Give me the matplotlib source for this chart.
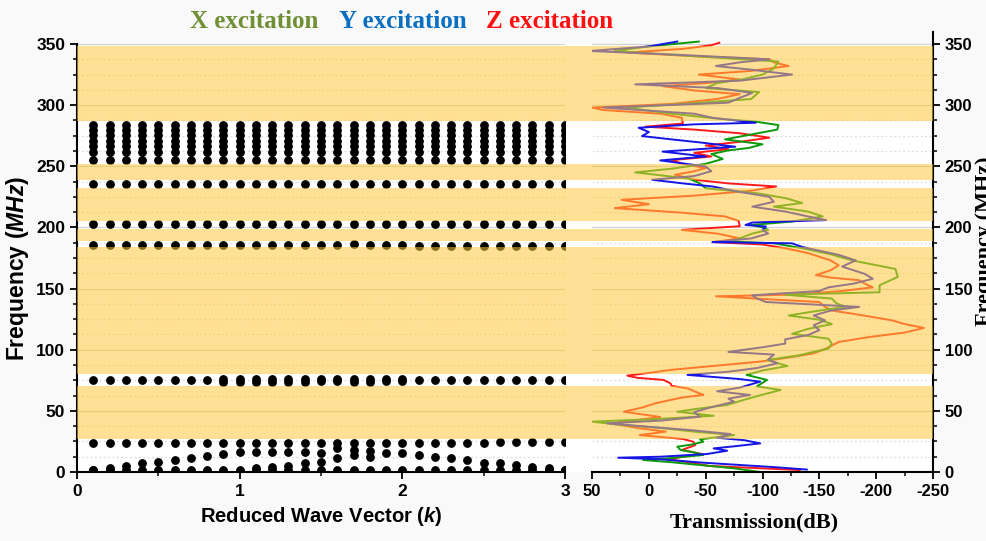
import matplotlib
matplotlib.use("Agg")
import matplotlib.pyplot as plt
from matplotlib.ticker import MultipleLocator
import numpy as np

plt.rcParams['font.family'] = ['Liberation Sans', 'DejaVu Sans']
plt.rcParams['font.weight'] = 'bold'
plt.rcParams['axes.unicode_minus'] = False
plt.rcParams['mathtext.fontset'] = 'custom'
plt.rcParams['mathtext.rm'] = 'Liberation Sans:bold'
plt.rcParams['mathtext.bfit'] = 'Liberation Sans:bold:italic'

# ---- band structure (reduced wave vector vs frequency, MHz) ----
k_vals = [0.1, 0.2, 0.3, 0.4, 0.5, 0.6, 0.7, 0.8, 0.9, 1.0,
          1.1, 1.2, 1.3, 1.4, 1.5, 1.6, 1.7, 1.8, 1.9, 2.0,
          2.1, 2.2, 2.3, 2.4, 2.5, 2.6, 2.7, 2.8, 2.9, 3.0]

f_low = [1.6, 1.6, 1.6, 1.8, 1.6, 1.6, 1.8, 1.6, 1.6, 1.6, 1.6, 1.6, 1.6, 1.8, 1.6,
         1.8, 1.8, 1.6, 1.6, 1.6, 1.8, 1.6, 1.6, 1.6, 1.8, 1.6, 1.6, 1.6, 1.8, 1.6]
f_fold = [1.6, 3.3, 5.2, 7.1, 8.5, 9.8, 11.6, 13.4, 14.7, 16.1, 16.1, 16.1, 16.1, 16.1, 15.8,
          19.4, 18.0, 17.5, 15.8, 15.8, 13.9, 12.5, 11.2, 9.8, 7.6, 7.1, 5.7, 4.4, 3.0, 1.6]
k_fold2 = [1.1, 1.2, 1.3, 1.4, 1.5, 1.6, 1.7, 1.8]
f_fold2 = [3.0, 3.8, 5.2, 7.1, 8.5, 11.2, 13.9, 12.5]
f_24 = [24.0, 24.0, 24.0, 24.0, 24.0, 24.0, 23.6, 23.6, 23.6, 23.6, 23.6, 23.6, 23.6, 23.6, 23.6,
        24.0, 24.0, 24.0, 24.0, 24.0, 24.0, 24.0, 24.0, 24.0, 24.0, 24.4, 24.4, 24.4, 24.4, 24.4]
f_75 = [75.3, 75.3, 75.3, 75.3, 75.3, 75.3, 75.3, 75.3, 75.8, 75.8, 75.8, 75.8, 75.8, 75.8, 75.8,
        75.8, 75.8, 75.8, 75.8, 75.8, 75.3, 75.3, 75.3, 75.3, 75.3, 75.3, 75.3, 75.3, 75.3, 75.3]
k_75b = [0.9, 1.0, 1.1, 1.2, 1.3, 1.4, 1.5, 1.6, 1.7, 1.8, 1.9, 2.0]
f_75b = [73.9, 73.9, 73.9, 73.9, 73.9, 73.9, 74.2, 74.2, 73.9, 73.9, 74.2, 74.2]
f_185 = [185.5, 185.5, 185.5, 185.5, 185.5, 185.5, 185.5, 185.5, 185.5, 185.5, 185.5, 185.5, 186.0, 186.0, 186.0,
         186.0, 186.5, 186.0, 185.5, 185.5, 185.0, 185.0, 184.5, 184.5, 184.5, 184.5, 184.5, 185.0, 185.0, 185.0]
f_202 = [202.5] * 30
f_235 = [235.4, 235.4, 235.4, 235.4, 235.4, 235.4, 235.4, 235.4, 235.4, 235.4, 235.4, 235.4, 235.4, 235.8, 235.8,
         235.8, 235.8, 235.4, 235.4, 235.4, 235.4, 235.4, 235.4, 235.4, 235.4, 235.4, 235.4, 235.4, 235.4, 235.4]
f_upper = [255.5, 261.5, 266.5, 271.0, 275.5, 279.5, 283.5]   # flat branches of the 252-287 MHz pass band

# stop bands (shaded)
band_lo = [27, 80, 189, 205, 239, 287]
band_hi = [70, 184, 199, 232, 252, 348.5]

# ---- transmission spectra, frequency (MHz) vs dB ----
x_freq = [0, 3, 5.7, 8, 9.8, 11, 13.9, 16, 18, 20.7, 22.5, 24.8, 26.7, 30.2, 33, 36, 39, 41.2, 43, 46,
          49.3, 52, 54.8, 58, 62, 67.1, 70, 75.3, 79.4, 83, 86.7, 91.6, 95.4, 101, 105, 109, 113, 117,
          121, 124.5, 128, 132, 135, 138, 141.8, 145, 147, 152.7, 159.5, 166, 173, 178, 183, 187, 188.5,
          191, 195, 198, 200, 202, 204.8, 209, 213, 217, 220, 224, 228, 232, 236, 240, 245, 248, 252, 256,
          260, 263, 265, 268, 272, 276, 280, 283.7, 286.5, 289, 293, 298, 301, 305, 310.7, 314, 318, 321,
          325, 330, 335.6, 340, 344.3, 348, 352]
x_db = [-98, -75, -45, -20, 5, -15, -48, -40, -28, -25, -38, -48, -45, -75, -40, -10, 30, 50, 0, -57,
        -25, -45, -69, -80, -95, -116, -95, -104, -86, -100, -122, -104, -132, -158, -161, -158, -126, -140,
        -161, -150, -123, -150, -173, -165, -161, -120, -203, -203, -219, -217, -179, -160, -135, -110, -70,
        -80, -91, -105, -100, -90, -126, -153, -140, -110, -135, -120, -95, -50, -45, -35, 12, -20, -50, -65,
        -55, -70, -88, -100, -67, -90, -113, -114, -94, -60, -20, 20, -30, -90, -97, -50, -60, -82,
        -100, -110, -114, -40, 30, 0, -44]

y_freq = [2, 4, 7.6, 10.4, 11.7, 12.5, 14.7, 17.4, 19.3, 21, 23.4, 26, 28, 31, 34, 37, 39.8, 42, 45.2, 49,
          53, 57.5, 60, 63, 66, 69, 73.9, 76, 79.4, 82, 85, 88.9, 92, 96, 98.2, 102, 105, 108.5, 112, 116,
          120, 124, 128, 132, 135, 139, 142, 144.5, 148, 151, 154, 158, 162, 168, 173, 177.6, 181, 184, 187,
          188, 191, 195, 198, 200.8, 202, 204, 206, 209, 213, 217, 221, 225, 229, 233.5, 236, 239, 242, 246,
          249.9, 254.8, 258, 262, 266, 269.3, 272, 274.7, 278, 281.5, 284.3, 285.6, 289.7, 293, 298, 302,
          306, 310, 314, 317, 320, 325, 329, 332, 335, 337.5, 341, 344.3, 348, 352]
y_db = [-139, -110, -48, -10, 27, -10, -51, -69, -57, -75, -98, -84, -60, -72, -40, 0, 37, -10, -45, -40,
        -55, -75, -70, -89, -60, -80, -98, -80, -34, -70, -95, -113, -105, -110, -70, -100, -120, -120, -140, -150,
        -145, -155, -145, -160, -185, -103, -95, -91, -150, -158, -180, -197, -190, -170, -182, -167, -150, -135, -126,
        -56, -90, -105, -100, -103, -85, -91, -156, -140, -120, -91, -110, -106, -80, -56, -30, -3, -40, -55,
        -50, -10, -50, -12, -76, -47, -20, 6, 0, 9, -40, -94, -56, -40, 40, -70,
        -80, -91, -60, 12, -80, -126, -90, -59, -80, -106, -30, 52, 0, -25]

z_freq = [0, 1.6, 5, 8, 10.4, 12.5, 14.7, 18, 22, 24.8, 27, 30.2, 33, 36, 39.8, 42, 45, 49.3, 52.9, 56,
          58.9, 61, 63, 66, 68.4, 70.5, 72.5, 75.3, 77, 78.8, 81, 83.5, 87, 90.3, 94, 97, 101, 106.3, 110.4,
          114, 117.8, 121, 124, 127, 129.5, 132, 135, 139, 141.5, 143.7, 145, 148, 151, 154, 156.8, 159, 161,
          165, 169, 173, 176, 179, 183, 186, 188, 191, 195, 198, 201, 205.4, 209, 212, 215.8, 219, 222.6, 226,
          230, 233.5, 236, 239, 243, 246, 248.5, 252, 255, 258, 261, 264, 267, 270, 273.4, 277, 280, 282.4,
          285, 289.7, 293, 296, 298, 301, 305, 309, 312, 315.6, 318, 321, 325, 328, 332, 335, 337.5, 340,
          343, 346, 349, 351]
z_db = [-134, -132, -53, -35, -17, -30, -47, -29, -41, -39, -30, 8, -15, 10, 34, 15, -10, 22, 5, -5,
        -19, -30, -48, -40, -34, -20, -19, -13, 10, 19, 0, -19, -60, -98, -126, -145, -156, -167, -194,
        -225, -242, -225, -214, -195, -179, -161, -155, -150, -100, -59, -126, -170, -197, -190, -185, -160, -147,
        -160, -167, -160, -150, -140, -120, -100, -56, -80, -60, -29, -80, -79, -67, -30, 30, 0, 24, -40,
        -90, -112, -70, -40, -23, -40, -50, -30, -20, -55, -40, -70, -50, -80, -106, -80, -40, 3,
        -30, -29, -10, 40, 50, -20, -60, -80, -40, -12, -50, -80, -44, -90, -123, -110, -106, -40,
        20, -30, -55, -62]

legend_labels = ['X excitation', 'Y excitation', 'Z excitation']
legend_colors = ['#6f8f35', '#0a6fc0', '#ff1010']
line_colors = ['#0a9a0a', '#1515e6', '#ff1a1a']

W, H = 986, 541


def box(x0, x1, y_top, y_bot):
    return [x0 / W, 1 - y_bot / H, (x1 - x0) / W, (y_bot - y_top) / H]


fig = plt.figure(figsize=(W / 100, H / 100), dpi=100, facecolor='#f9f9f9')
bg = fig.add_axes(box(77, 933, 44, 472), zorder=-1)   # white plotting strip behind both panels
ax1 = fig.add_axes(box(77, 565, 44, 472))
ax2 = fig.add_axes(box(592, 933, 32, 472))
ov = fig.add_axes(box(77, 933, 44, 472), zorder=5)

bg.set_facecolor('white')
bg.set_xticks([])
bg.set_yticks([])
for s in bg.spines.values():
    s.set_visible(False)

# left panel: dispersion dots
dot = dict(ls='none', marker='o', ms=5.3, color='black', zorder=3)
ax1.plot(k_vals, f_low, **dot)
ax1.plot(k_vals, f_fold, **dot)
ax1.plot(k_fold2, f_fold2, **dot)
ax1.plot(k_vals, f_24, **dot)
ax1.plot(k_vals, f_75, **dot)
ax1.plot(k_75b, f_75b, **dot)
ax1.plot(k_vals, f_185, **dot)
ax1.plot(k_vals, f_202, **dot)
ax1.plot(k_vals, f_235, **dot)
for lev in f_upper:
    ax1.plot(k_vals, [lev] * len(k_vals), **dot)

ax1.set_xlim(0, 3)
ax1.set_ylim(0, 350)
ax1.xaxis.set_major_locator(MultipleLocator(1))
ax1.xaxis.set_minor_locator(MultipleLocator(0.5))
ax1.yaxis.set_major_locator(MultipleLocator(50))
ax1.yaxis.set_minor_locator(MultipleLocator(12.5))
for s in ['top', 'right']:
    ax1.spines[s].set_visible(False)

# right panel: transmission curves
ax2.plot(z_db, z_freq, color=line_colors[2], lw=1.4, zorder=2)
ax2.plot(x_db, x_freq, color=line_colors[0], lw=1.4, zorder=2)
ax2.plot(y_db, y_freq, color=line_colors[1], lw=1.4, zorder=2)
ax2.set_xlim(50, -250)
ax2.set_ylim(0, 350 * 440 / 428)
ax2.xaxis.set_major_locator(MultipleLocator(50))
ax2.xaxis.set_minor_locator(MultipleLocator(25))
ax2.yaxis.set_major_locator(MultipleLocator(50))
ax2.yaxis.set_minor_locator(MultipleLocator(12.5))
ax2.yaxis.tick_right()
for s in ['top', 'left']:
    ax2.spines[s].set_visible(False)

for ax in (ax1, ax2):
    ax.set_facecolor('none')
    ax.set_axisbelow(True)
    ax.grid(axis='y', which='major', color='#d2d2d2', lw=0.9)
    ax.grid(axis='y', which='minor', color='#dcdcdc', lw=0.9, ls=(0, (1.5, 2)))
    for s in ax.spines.values():
        s.set_linewidth(1.5)
    ax.tick_params(which='major', direction='out', length=5, width=1.3, labelsize=12.5)
    ax.tick_params(which='minor', direction='out', length=3, width=1.1)
    for lab in ax.get_xticklabels() + ax.get_yticklabels():
        lab.set_fontweight('bold')
ax2.tick_params(axis='x', labelsize=12)
ax2.tick_params(axis='y', labelsize=12)

# shaded stop bands laid over both panels
ov.set_xlim(0, 1)
ov.set_ylim(0, 350)
ov.axis('off')
for lo, hi in zip(band_lo, band_hi):
    ov.axhspan(lo, hi, color='#ffc83c', alpha=0.55, lw=0)

# axis titles
fig.text(18 / W, 1 - 268 / H, r'Frequency ($\mathbfit{MHz}$)', rotation=90,
         ha='center', va='center', fontsize=16.5, fontweight='bold')
fig.text(321 / W, 1 - 517 / H, r'Reduced Wave Vector ($\mathbfit{k}$)',
         ha='center', va='center', fontsize=14.5, fontweight='bold')
fig.text(754 / W, 1 - 522 / H, 'Transmission(dB)', ha='center', va='center',
         fontsize=16, fontweight='bold', family='Liberation Serif')
fig.text(975 / W, 1 - 241 / H, 'Frequency (MHz)', rotation=90, ha='left', va='center',
         fontsize=16, fontweight='bold', family='Liberation Serif')

# excitation key
for xc, lab, col in zip([254, 403, 550], legend_labels, legend_colors):
    fig.text(xc / W, 1 - 21 / H, lab, ha='center', va='center', color=col,
             fontsize=18, fontweight='bold', family='Liberation Serif')

fig.savefig('out.png', dpi=100, facecolor=fig.get_facecolor())
